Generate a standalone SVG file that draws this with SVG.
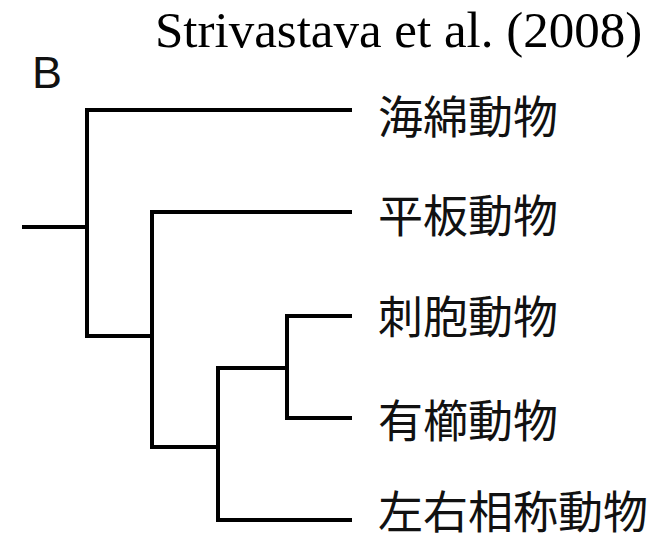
<svg xmlns="http://www.w3.org/2000/svg" width="654" height="546" viewBox="0 0 654 546">
<style>
.br{fill:none;stroke:#000;stroke-width:4;stroke-linejoin:miter;stroke-linecap:butt}
.lab{font-family:"Noto Sans CJK JP","Noto Sans CJK SC",sans-serif;font-size:45px;fill:#111}
.cite{font-family:"Liberation Serif",serif;font-size:51px;fill:#000}
.tag{font-family:"Liberation Sans",sans-serif;font-size:45px;fill:#111}
</style>
<rect width="654" height="546" fill="#fff"/>
<text class="cite" x="155" y="47">Strivastava et al. (2008)</text>
<text class="tag" x="32" y="88">B</text>
<g id="connectors">
<path class="br" d="M22,227 H87"/>
<path class="br" d="M352,110 H87 V336 H152"/>
<path class="br" d="M352,212 H152 V447 H218"/>
<path class="br" d="M288,368 H218 V520 H352"/>
<path class="br" d="M352,316 H287 V418 H352"/>
</g>
<g id="porifera"><text class="lab" x="378" y="134">海綿動物</text></g>
<g id="placozoa"><text class="lab" x="378" y="233">平板動物</text></g>
<g id="cnidaria"><text class="lab" x="378" y="334">刺胞動物</text></g>
<g id="ctenophora"><text class="lab" x="378" y="438">有櫛動物</text></g>
<g id="bilateria"><text class="lab" x="378" y="529">左右相称動物</text></g>
</svg>
